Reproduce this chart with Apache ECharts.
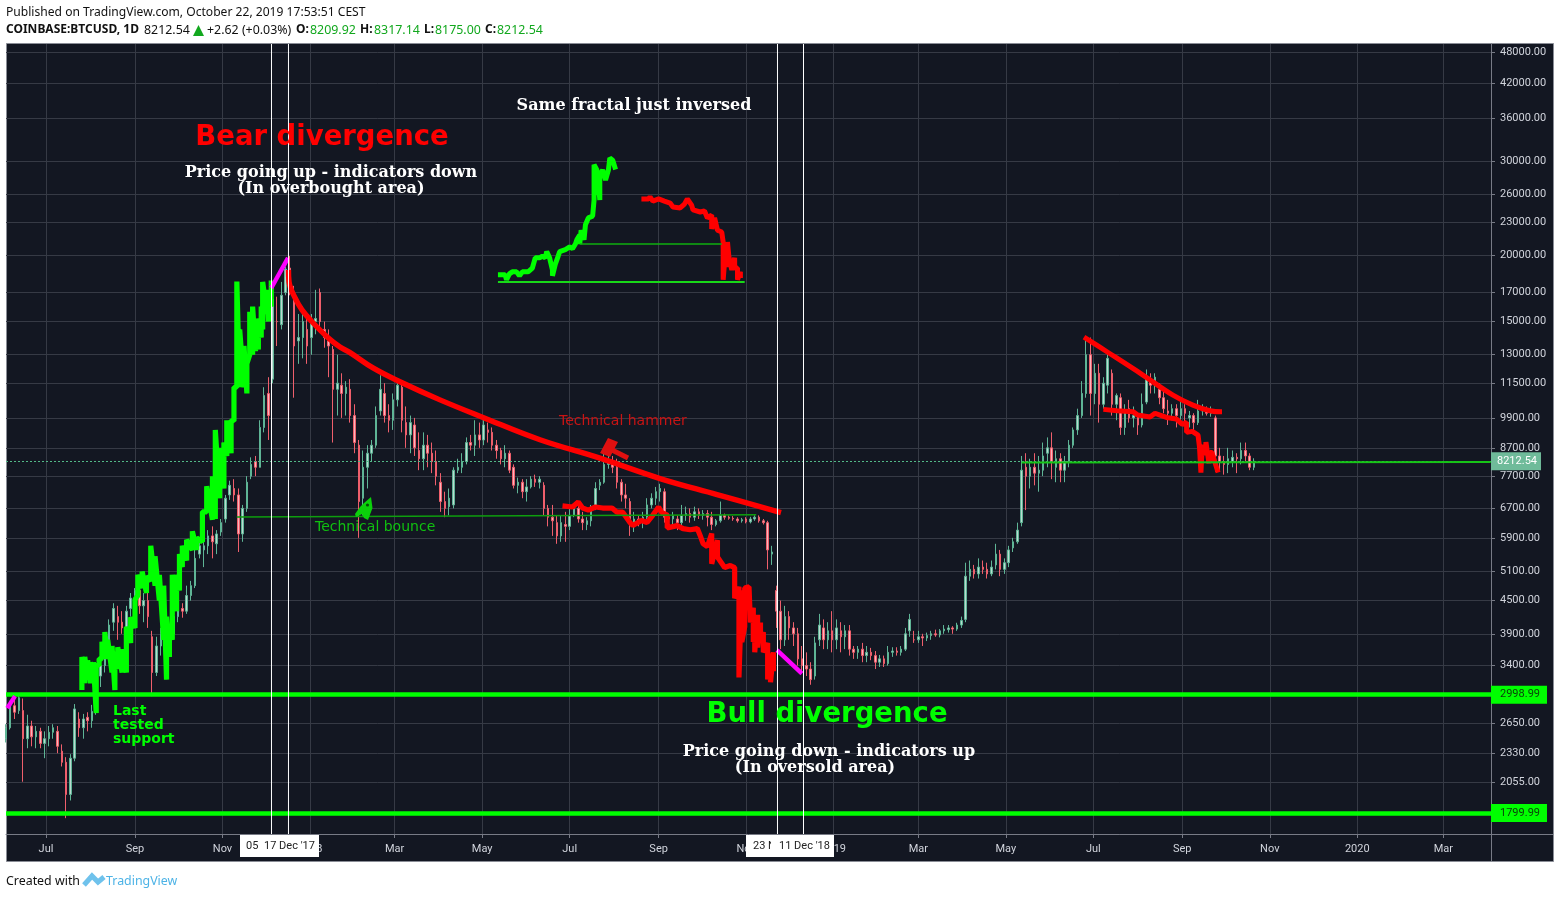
<!DOCTYPE html>
<html><head><meta charset="utf-8">
<script src="https://cdn.jsdelivr.net/npm/echarts@6/dist/echarts.min.js"></script>
<style>html,body{margin:0;padding:0;background:#fff}#c{width:1560px;height:898px}</style></head>
<body><div id="c"></div>
<script>
// ---- axis data
const priceTicks=[48000,42000,36000,30000,26000,23000,20000,17000,15000,13000,11500,9900,8700,7700,6700,5900,5100,4500,3900,3400,2998.99,2650,2330,2055,1799.99];
const monthDays=[0,62,123,184,243,304,365,427,488,549,608,669,730,792,853,914,974];
const monthLabels=['Jul','Sep','Nov','2018','Mar','May','Jul','Sep','Nov','2019','Mar','May','Jul','Sep','Nov','2020','Mar'];
const supports=[2998.99,1799.99];
const lastPrice=8212.54;
const firstCandleDay=-28, candleStep=3; // days since 1 Jul 2017
// ---- candles [open,close,low,high], sampled every third day
const candles2017=[
[2480,2600,2440,2640],[2600,2870,2580,2920],[2860,2780,2700,2960],[2800,2960,2760,2990],[2800,2480,2060,2950],[2480,2620,2380,2750],[2620,2500,2400,2680],[2500,2560,2380,2620],[2560,2430,2380,2600],[2430,2480,2280,2560],
[2480,2550,2400,2620],[2550,2600,2480,2640],[2560,2400,2330,2620],[2350,2240,2200,2420],[2240,1950,1760,2290],[1950,2280,1900,2320],[2280,2820,2250,2880],[2700,2600,2500,2780],[2600,2700,2480,2760],[2720,2680,2560,2780],
[2680,2790,2600,2870],[2800,3250,2750,3300],[3250,3400,3100,3450],[3400,3650,3300,3700],[3650,4050,3550,4150],[4100,4350,3950,4450],[4200,4100,3800,4400],[4100,4000,3900,4300],[4000,4300,3950,4400],[4350,4550,4200,4650],
[4600,4700,4400,4750],[4700,4400,4250,4950],[4400,4500,4100,4650],[4500,4200,4000,4650],[3850,3300,2980,3950],[3300,3700,3250,3850],[3700,3900,3550,4000],[3900,3650,3550,4000],[3650,3900,3550,3980],[3900,4200,3850,4300],
[4200,4400,4100,4450],[4350,4300,4180,4450],[4300,4600,4250,4800],[4600,4800,4500,4900],[4800,5400,4750,5800],[5500,5700,5400,5850],[5600,5700,5200,5800],[5700,5950,5500,6100],[5950,5800,5400,6200],[5750,6000,5500,6100],
[6050,6300,5950,6400],[6400,7000,6300,7100],[7100,7400,6950,7550],[7300,7100,6900,7600],[7100,6000,5550,7300],[6000,6700,5800,6800],[6700,7500,6600,7700],[7700,8100,7600,8350],[8200,8000,7700,8400],[8000,9500,8000,9800],
[9500,10900,9300,11300],[11000,10000,9000,11800],[11700,16500,11500,17600],[15000,15000,13500,16700],[14800,16800,14500,17800],[17000,18800,16800,19000],[18900,17500,16800,19900],[16500,13500,10800,17500],[13800,14000,12500,15500],[14000,15000,12800,16000],
[14500,13500,12500,15400]];
const candles2018=[
[14000,15000,13000,15500],[15000,15200,14200,17200],[17000,15000,14500,17300],[14500,14000,13400,15000],[13800,13500,11800,14500],[13300,11200,8900,13500],[11200,11500,10000,13000],[11400,11000,9900,12000],[11000,11300,10000,11600],[11200,10000,9700,11700],
[10000,8900,8500,10500],[8800,6900,5900,9000],[7000,8000,6500,8600],[8000,8500,7300,8800],[8500,8800,8200,9000],[8800,10000,8700,10400],[10200,11200,10000,11900],[11000,10000,9700,11500],[10000,9800,9300,10500],[9800,10700,9400,11000],
[10700,11400,10400,11700],[11300,9800,9300,11500],[9700,9200,8700,10400],[9200,9700,8500,10000],[9600,8700,8400,9900],[8600,8300,7900,9300],[8300,8800,7900,9300],[8800,8500,8000,9200],[8500,8200,7800,8900],[8200,7700,7400,8600],
[7500,6900,6600,7800],[6900,6700,6450,7200],[6750,7000,6500,7300],[6800,7900,6700,8000],[7900,8000,7800,8300],[8000,8200,7800,8500],[8200,8900,8100,9100],[8900,8800,8600,9200],[8800,9200,8400,9800],[9200,9000,8700,9700],
[9000,9600,8800,10000],[9400,9300,8900,9700],[9300,8800,8600,9500],[8800,8600,8300,9000],[8600,8300,8100,8700],[8300,8500,8000,8800],[8500,7900,7800,8600],[8000,7400,7300,8100],[7400,7500,7150,7650],[7500,7200,7000,7600],
[7200,7350,6900,7600],[7350,7600,7300,7700],[7600,7500,7350,7750],[7500,7600,7300,7700],[7400,6700,6500,7500],[6700,6450,6200,6800],[6450,6350,5950,6800],[6300,5950,5750,6500],[5950,6300,5800,6500],[6250,6200,5800,6600],
[6200,6500,6100,6700],[6500,6700,6450,6800],[6700,6400,6300,6800],[6400,6300,6100,6600],[6250,6350,6100,6450],[6350,6700,6200,6800],[6700,7300,6650,7500],[7400,7500,7250,7600],[7500,8100,7450,8600],[8100,8200,7950,8600],
[8200,8000,7800,8400],[8000,7500,7300,8300],[7500,7100,6900,7600],[7100,7000,6700,7450],[6900,6300,5950,7000],[6300,6400,6050,6600],[6400,6300,6200,6500],[6300,6450,6150,6600],[6450,6800,6400,7000],[6800,7000,6700,7150],
[7000,7200,6800,7350],[7200,7300,6900,7450],[7200,6450,6300,7300],[6450,6400,6200,6550],[6400,6500,6150,6600],[6400,6300,6100,6500],[6300,6500,6100,6800],[6500,6550,6350,6750],[6550,6450,6300,6700],[6450,6600,6350,6750],
[6600,6500,6400,6700],[6500,6550,6380,6650],[6550,6450,6200,6650],[6450,6250,6100,6600],[6250,6350,6200,6400],[6350,6500,6300,6900],[6500,6450,6380,6550],[6450,6420,6380,6500],[6420,6400,6350,6480],[6400,6350,6300,6450],
[6350,6380,6300,6430],[6400,6320,6280,6450],[6320,6400,6280,6460],[6400,6450,6350,6500],[6450,6350,6300,6500],[6350,6300,6250,6400],[6300,5600,5150,6350],[5500,5550,5250,5700],[4700,4300,4000,4800],[4300,3800,3650,4500],
[3800,4200,3700,4400],[4200,4000,3800,4300],[4000,3900,3700,4100],[3900,3500,3400,4000],[3500,3400,3300,3700],[3400,3350,3250,3600],[3350,3200,3130,3450],[3250,3750,3200,3850],[3800,4050,3700,4250],[4000,3800,3650,4150],
[3800,3950,3650,4100]];
const candles2019=[
[3950,3800,3600,4300],[3800,4000,3650,4150],[3950,3850,3600,4100],[3850,3950,3650,4050],[3950,3650,3550,4050],[3650,3600,3500,3700],[3600,3650,3500,3700],[3650,3550,3450,3750],[3550,3600,3450,3700],[3600,3550,3480,3670],
[3550,3450,3350,3620],[3450,3500,3380,3560],[3500,3430,3380,3550],[3430,3600,3400,3700],[3600,3620,3530,3680],[3620,3600,3550,3680],[3600,3650,3550,3700],[3650,3900,3620,4000],[3950,4150,3850,4250],[3800,3800,3750,3950],
[3800,3850,3750,3950],[3850,3830,3700,3900],[3830,3870,3780,3920],[3870,3900,3800,3950],[3900,3880,3850,3970],[3880,3950,3840,3980],[3950,3980,3900,4050],[3970,4000,3920,4050],[4000,3980,3900,4030],[3980,4050,3950,4090],
[4050,4130,4000,4200],[4150,5000,4100,5300],[5000,5150,4900,5350],[5150,5050,4950,5250],[5050,5200,4950,5400],[5200,5150,5050,5350],[5150,5050,4950,5300],[5050,5200,5000,5350],[5250,5500,5150,5750],[5500,5150,5000,5600],
[5150,5300,5050,5400],[5300,5600,5200,5700],[5650,5800,5550,5900],[5800,6100,5750,6300],[6300,7900,6200,8400],[8000,7700,6650,8500],[7700,8000,7300,8300],[8000,7800,7400,8500],[7800,7900,7200,8400],[7900,8400,7700,8900],
[8500,8700,8000,9100],[8700,8200,7600,9300],[8000,8300,7500,8600],[8300,7900,7500,8500],[7900,8200,7500,8400],[8200,8800,8000,9000],[8800,9400,8700,9500],[9400,10000,9200,10300],[10000,11000,9900,11600],[11000,13000,10800,14000],
[13000,11000,10000,14000],[11000,12000,10500,12500],[12000,10500,9700,12500],[10500,11500,10300,11800],[11400,12800,11000,13200],[12000,10500,10000,12200],[10500,10900,9800,11000],[10800,9500,9200,11000],[9500,10200,9200,10500],[10300,9900,9700,10700],
[9900,10000,9500,10400],[10000,9600,9200,10100],[9600,10500,9500,11000],[10600,11700,10500,12200],[11700,11400,11000,12000],[11400,11800,11000,12000],[11200,10800,10500,11500],[10800,10300,10100,11200],[10200,10100,9600,10700],[10100,10300,9800,10500],
[10300,10000,9500,10500],[10000,10300,9800,10600],[10300,10100,9700,10500],[9900,10000,9500,10200],[10000,9700,9300,10100],[9700,10200,9600,10700],[10200,10300,10000,10500],[10300,10100,10000,10400],[10100,10200,9950,10400],[9900,8400,7850,10000],
[8400,8200,7900,8700],[8200,8100,7750,8400],[8100,8300,7800,8700],[8200,8350,8000,8600],[8350,8300,7800,8500],[8300,8600,8100,8900],[8600,8400,8200,8900],[8400,8000,7900,8500],[8000,8212.54,7900,8317.14]];
// ---- drawn annotations: [day, price]
const bigGreenColumns=[[25,3060,3530],[27,3150,3530],[29,3200,3480],[31,3150,3450],[33,3200,3450],[35,2770,3410],[37,3400,3500],[39,3500,3770],[41,3500,3930],[43,3500,3800],[46,3300,3700],[48,3060,3610],[50,3350,3680],[53,3300,3650],[56,3300,4020],[59,3750,4190],[62,4000,4520],[64,4600,5030],[67,4750,5100],[70,4650,5000],[73,4900,5700],[76,4800,5450],[79,4500,5030],[82,3800,4800],[84,3200,4200],[86,3530,4000],[88,3800,5030],[91,4300,5030],[93,4700,5500],[95,5200,5700],[98,5350,5850],[102,5600,6070],[105,5600,5900],[109,5800,6600],[112,6600,7370],[116,6380,7700],[118,6400,9400],[121,7000,8700],[124,7300,8900],[126,8400,9800],[129,8500,9800],[131,9770,11300],[133,11300,17830],[135,11300,14500],[138,11300,13500],[140,11000,12500],[142,13000,15650],[144,13000,16000],[146,13200,15000],[148,13300,15200],[150,14000,16000],[151,14500,17800],[154,15500,17200],[155,15000,16500],[157,16000,17900]];
const smallGreen=[[315,18350],[316,18430],[320,18350],[321,17970],[323,18430],[325,18590],[328,18590],[330,18270],[332,18590],[336,18590],[339,18900],[341,19750],[344,19750],[346,19900],[348,19750],[349,20280],[351,19750],[353,18740],[353,18270],[355,19220],[356,19220],[357,19900],[358,20280],[362,20460],[365,20700],[367,20550],[369,20960],[370,21340],[372,21800],[372,20960],[373,22250],[375,21340],[376,22780],[378,23460],[381,23640],[382,25340],[382,29500],[384,28850],[384,25900],[385,27620],[386,25340],[386,28220],[388,28850],[390,27620],[392,28850],[393,30380],[395,30100],[397,28900]];
const smallRed=[[415,25460],[420,25460],[421,25700],[423,25230],[427,25460],[431,25230],[435,25010],[437,24590],[442,24490],[445,24900],[447,25460],[450,24790],[451,24280],[456,24070],[459,24170],[461,23460],[464,23760],[464,22370],[466,23460],[468,22250],[471,22070],[472,21140],[472,17970],[474,21060],[474,18980],[475,21140],[476,19830],[478,18740],[480,19750],[480,18900],[482,18900],[482,17970],[484,18590],[484,18100]];
const smallLevelUpper=[[372,20960],[471,20960]];
const smallLevelLower=[[315,17800],[487,17800]];
const bounceLine=[[133,6456],[495,6520]];
const rightLevel=[[680,8170],[1007,8180]];
const bearTrend=[[169,18740],[169.4,17800],[173.6,16610],[178.4,15780],[185.4,14990],[196.6,13990],[204.9,13440],[211.9,13120],[227.9,12280],[246.7,11570],[274.6,10700],[304.6,9920],[344.3,9010],[386.1,8320],[428,7620],[467.7,7110],[512.3,6580]];
const secondTrend=[[723.5,14030],[739.5,13170],[764.6,11910],[785.5,10920],[799.4,10460],[811.3,10210],[819.7,10160]];
const redMarker2018=[[360,6772],[367,6740],[371,6890],[374,6710],[378,6650],[383,6740],[388,6710],[394.5,6710],[398,6590],[402,6590],[407,6305],[409,6220],[415,6360],[419,6305],[423,6508],[427,6740],[429,6590],[433,6508],[433,6160],[440,6220],[444,6140],[449,6108],[454,6140],[456,5955],[458,5755],[461,5680],[464,6010],[464,5275],[468,5840],[468,5430],[473,5190],[477,5235],[480,5190],[480,4545],[483,4776],[483,3230],[485,4706],[485,3764],[487,4022],[487,4752],[490,4776],[491,4095],[493,4363],[493,3764],[494,4056],[494,3600],[496,4233],[496,3677],[498,4095],[498,3826],[500,3926],[500,3600],[503,3748],[503,3201],[505,3586],[505,3163],[507,3600],[507,3317]];
const redMarker2019=[[737,10270],[746.5,10210],[757.6,10170],[761,10020],[769.5,9940],[773,10100],[776.5,10020],[781,9920],[788,9850],[792,9625],[795,9710],[795,9300],[799,9340],[803,9190],[804,8735],[805,7820],[806,8810],[808,8430],[808.5,8920],[810.6,8135],[811.3,8540],[812.7,8520],[817,7820]];
const magentaStrokes=[[[157,17340],[168.7,19750]],[[509.5,3635],[526.9,3285]],[[-27,2830],[-21.6,2980]]];
const crosshairDays=[157.16,169,509.86,527.99];
const xMin=-27.9,xMax=1007.2,yMin=1644,yMax=49685;

const candleRows=candles2017.concat(candles2018,candles2019).map((r,i)=>[firstCandleDay+i*candleStep].concat(r));
const greenPath=[];bigGreenColumns.forEach(c=>{greenPath.push([c[0],c[1]],[c[0],c[2]]);});
const GREEN='#00ff00',RED='#ff0000',MAG='#ff00ff';
const ln=(data,color,width,extra)=>Object.assign({type:'line',data,showSymbol:false,symbol:'none',silent:true,animation:false,z:5,
  lineStyle:{color,width,join:'bevel',cap:'butt'}},extra||{});

const txt=(x,y,t,font,fill,align,z)=>({type:'text',x,y,z:z||50,silent:true,style:{text:t,font,fill,align:align||'left',verticalAlign:'middle'}});
const sans='"Noto Sans",sans-serif';
const tick='11px Roboto,sans-serif';
const bold='bold 27.5px "DejaVu Sans"';
const ser='bold 16px "DejaVu Serif"';
const head='12.4px '+sans, headB='bold 12px '+sans, GH='#12a81e';
const graphic=[
 {type:'rect',z:-10,silent:true,shape:{x:6.5,y:43.5,width:1547,height:818},style:{fill:'#131722',stroke:'#8a8d96',lineWidth:1}},
 {type:'line',z:60,silent:true,shape:{x1:1491,y1:834.5,x2:1553,y2:834.5},style:{stroke:'#787b86'}},
 {type:'line',z:60,silent:true,shape:{x1:1491.5,y1:834,x2:1491.5,y2:861},style:{stroke:'#787b86'}},
 txt(6,13,'Published on TradingView.com, October 22, 2019 17:53:51 CEST','12.1px '+sans,'#111'),
 txt(6,30,'COINBASE:BTCUSD, 1D',headB,'#111'),
 txt(144,30,'8212.54',head,'#111'),
 {type:'polygon',z:50,silent:true,shape:{points:[[193,36],[204,36],[198.5,25]]},style:{fill:GH}},
 txt(207,30,'+2.62 (+0.03%)',head,'#111'),
 txt(296,30,'O:',headB,'#111'),txt(310,30,'8209.92',head,GH),
 txt(360,30,'H:',headB,'#111'),txt(374,30,'8317.14',head,GH),
 txt(424,30,'L:',headB,'#111'),txt(435,30,'8175.00',head,GH),
 txt(485,30,'C:',headB,'#111'),txt(497,30,'8212.54',head,GH),
 txt(6,881,'Created with','12.4px '+sans,'#111'),
 txt(106,881,'TradingView','12.4px '+sans,'#4db3e6'),
 {type:'polyline',z:50,silent:true,shape:{points:[[84,885],[92,876],[98,882],[104,877]]},style:{stroke:'#6fc2ec',lineWidth:5,fill:null}},
 txt(322,138,'Bear divergence',bold,RED,'center'),
 txt(331,173,'Price going up - indicators down',ser,'#fff','center'),
 txt(331,189,'(In overbought area)',ser,'#fff','center'),
 txt(634,106,'Same fractal just inversed',ser,'#fff','center'),
 txt(827,715,'Bull divergence',bold,GREEN,'center'),
 txt(829,752,'Price going down - indicators up',ser,'#fff','center'),
 txt(815,768,'(In oversold area)',ser,'#fff','center'),
 txt(113,711,'Last','bold 14px "DejaVu Sans"',GREEN),
 txt(113,725,'tested','bold 14px "DejaVu Sans"',GREEN),
 txt(113,739,'support','bold 14px "DejaVu Sans"',GREEN),
 txt(315,527,'Technical bounce','14px "DejaVu Sans"','#10c010'),
 txt(559,421,'Technical hammer','14px "DejaVu Sans"','#c81414'),
 {type:'polygon',z:40,silent:true,shape:{points:[[371,497],[372.5,508],[368,520],[364,518],[362,514],[356,517],[355,514],[360,507],[364,503]]},style:{fill:'#0bd00b'}},
 {type:'circle',z:41,silent:true,shape:{cx:367.5,cy:505,r:1.6},style:{fill:'#064d06'}},
 {type:'polygon',z:40,silent:true,shape:{points:[[608,438],[618,442],[610,457],[600,453]]},style:{fill:'#e01010'}},
 {type:'line',z:40,silent:true,shape:{x1:612,y1:450,x2:628,y2:458},style:{stroke:'#e01010',lineWidth:5}},
 {type:'rect',z:70,silent:true,shape:{x:240,y:835,width:79,height:22},style:{fill:'#fff'}},
 txt(246,846,'05',tick,'#222',null,71),
 txt(264,846,"17 Dec '17",tick,'#222',null,71),
 {type:'rect',z:70,silent:true,shape:{x:746,y:835,width:88,height:22},style:{fill:'#fff'}},
 txt(753,846,'23 N',tick,'#222',null,71),
 {type:'rect',z:71,silent:true,shape:{x:771,y:835,width:63,height:22},style:{fill:'#fff'}},
 txt(779,846,"11 Dec '18",tick,'#222',null,72),
];

const tag=(v,color,bg,pad)=>({formatter:v.toFixed(2),position:'end',distance:0,color,backgroundColor:bg,fontFamily:'Roboto',fontSize:11,padding:pad});
const series=[
 {type:'candlestick',data:candleRows,encode:{x:0,y:[1,2,3,4]},barWidth:2,animation:false,silent:true,z:3,
  itemStyle:{color:'#bcd9d0',color0:'#f7b6bd',borderColor:'#5fb596',borderColor0:'#ef5f6c',borderWidth:1},
  markLine:{silent:true,animation:false,symbol:'none',z:4,data:[
   {yAxis:supports[0],lineStyle:{color:GREEN,width:4.5,type:'solid'},label:tag(supports[0],'#0b3d0b',GREEN,[4,7,3,9])},
   {yAxis:supports[1],lineStyle:{color:GREEN,width:4.5,type:'solid'},label:tag(supports[1],'#0b3d0b',GREEN,[4,7,3,9])},
   {yAxis:lastPrice,lineStyle:{color:'#53b987',width:1,type:[2,2]},label:tag(lastPrice,'#fff','#6fbb9a',[4,4,3,6])}
  ]}},
 ln(greenPath,GREEN,5.2),
 ln(smallGreen,GREEN,5),
 ln(smallRed,RED,5),
 ln(redMarker2018,RED,5.2),
 ln(redMarker2019,RED,5),
 ln(bearTrend,RED,5.4,{smooth:0.4}),
 ln(secondTrend,RED,5,{smooth:0.4}),
 ln(bounceLine,'#0e9e0e',1.6),
 ln(rightLevel,'#17c417',2),
 ln(smallLevelUpper,'#0fb00f',1.5),
 ln(smallLevelLower,'#18d818',2),
];
magentaStrokes.forEach(s=>series.push(ln(s,MAG,4.4)));
crosshairDays.forEach(d=>series.push(ln([[d,yMin],[d,yMax]],'#ffffff',1,{z:6})));

const chart=echarts.init(document.getElementById('c'),null,{renderer:'canvas'});
chart.setOption({
 animation:false,backgroundColor:'#ffffff',
 grid:{left:6,top:44,width:1485,height:790,show:false},
 xAxis:{type:'value',min:xMin,max:xMax,
  axisLine:{show:true,onZero:false,lineStyle:{color:'#787b86'}},
  axisTick:{show:true,length:4,lineStyle:{color:'#787b86'},customValues:monthDays},
  axisLabel:{show:true,customValues:monthDays,margin:10,color:'#d1d4dc',fontFamily:'Roboto',fontSize:11,
    formatter:v=>monthLabels[monthDays.indexOf(Math.round(v))]||''},
  splitLine:{show:true,lineStyle:{color:'#363a45',width:1}}},
 yAxis:{type:'log',position:'right',min:yMin,max:yMax,
  axisLine:{show:true,onZero:false,lineStyle:{color:'#787b86'}},
  axisTick:{show:true,length:4,lineStyle:{color:'#787b86'},customValues:priceTicks},
  axisLabel:{show:true,customValues:priceTicks,margin:9,color:'#d1d4dc',fontFamily:'Roboto',fontSize:11,padding:[7,0,0,0],
    formatter:v=>Number(v).toFixed(2)},
  splitLine:{show:true,lineStyle:{color:'#363a45',width:1}}},
 graphic,series
});
</script></body></html>
